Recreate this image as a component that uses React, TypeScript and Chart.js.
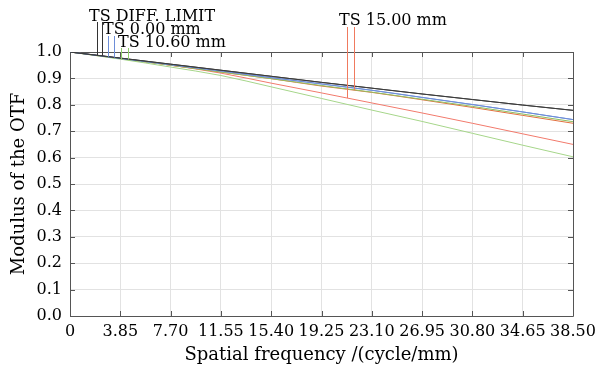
import React, { useEffect, useRef } from 'react';
import { Chart, registerables } from 'chart.js';

Chart.register(...registerables);

// Spatial frequency sample points (cycle/mm)
const freq = [0, 3.85, 7.7, 11.55, 15.4, 19.25, 23.1, 26.95, 30.8, 34.65, 38.5];
const xTickLabels = ['0', '3.85', '7.70', '11.55', '15.40', '19.25', '23.10', '26.95', '30.80', '34.65', '38.50'];
const yTickValues = [0, 0.1, 0.2, 0.3, 0.4, 0.5, 0.6, 0.7, 0.8, 0.9, 1.0];

// MTF series
const diffLimit = [1.0, 0.977, 0.954, 0.931, 0.908, 0.885, 0.863, 0.841, 0.82, 0.799, 0.779];
const ts000 = [1.0, 0.976, 0.952, 0.928, 0.903, 0.879, 0.855, 0.828, 0.801, 0.773, 0.744];
const ts1060a = [1.0, 0.975, 0.95, 0.924, 0.899, 0.873, 0.848, 0.821, 0.794, 0.765, 0.736];
const ts1060b = [1.0, 0.973, 0.943, 0.911, 0.868, 0.824, 0.78, 0.737, 0.692, 0.647, 0.603];
const ts1500a = [1.0, 0.975, 0.95, 0.924, 0.899, 0.871, 0.847, 0.819, 0.79, 0.76, 0.73];
const ts1500b = [1.0, 0.976, 0.95, 0.92, 0.882, 0.845, 0.807, 0.769, 0.73, 0.69, 0.65];

// Legend labels and the frequencies where their leader lines touch the curves
const labelTexts = ['TS DIFF. LIMIT', 'TS 0.00 mm', 'TS 10.60 mm', 'TS 15.00 mm'];
const leaderFreqs = [
  [2.04, 2.43],
  [2.93, 3.39],
  [3.9, 4.42],
  [21.22, 21.76],
];

const FONT = '"DejaVu Serif", serif';

const series = [
  { name: 'diffT', data: diffLimit, color: '#3c3c3c' },
  { name: 'diffS', data: diffLimit, color: '#3c3c3c' },
  { name: '0T', data: ts000, color: '#6d8ed8' },
  { name: '0S', data: ts000, color: '#6d8ed8' },
  { name: '10T', data: ts1060a, color: '#8fbf62' },
  { name: '10S', data: ts1060b, color: '#a6d68a' },
  { name: '15T', data: ts1500a, color: '#e2703e' },
  { name: '15S', data: ts1500b, color: '#f27a6c' },
];

// which series each leader line goes to
const leaderSeries = [
  [0, 1],
  [2, 3],
  [5, 4],
  [7, 6],
];
const leaderColors = ['#333333', '#6d8ed8', '#8fcf6a', '#f07a5e'];
// layout of the label texts (px): left, baseline, leader top
const labelLayout = [
  { x: 89, y: 21, top: 22 },
  { x: 103, y: 34, top: 36 },
  { x: 118, y: 47, top: 48 },
  { x: 339, y: 25, top: 27 },
];

function interp(xs: number[], ys: number[], x: number) {
  for (let i = 0; i < xs.length - 1; i++) {
    if (x >= xs[i] && x <= xs[i + 1]) {
      const t = (x - xs[i]) / (xs[i + 1] - xs[i]);
      return ys[i] + t * (ys[i + 1] - ys[i]);
    }
  }
  return ys[ys.length - 1];
}

const framePlugin = {
  id: 'frame',
  beforeDatasetsDraw(chart: any) {
    const { ctx, chartArea: a, scales } = chart;
    ctx.save();
    ctx.strokeStyle = '#555555';
    ctx.lineWidth = 1;
    ctx.beginPath();
    ctx.rect(Math.round(a.left) + 0.5, Math.round(a.top) + 0.5, Math.round(a.right - a.left), Math.round(a.bottom - a.top));
    ctx.stroke();
    const tl = 5;
    ctx.beginPath();
    freq.forEach((f) => {
      const x = Math.round(scales.x.getPixelForValue(f)) + 0.5;
      ctx.moveTo(x, a.bottom);
      ctx.lineTo(x, a.bottom - tl);
      ctx.moveTo(x, a.top);
      ctx.lineTo(x, a.top + tl);
    });
    yTickValues.forEach((v) => {
      const y = Math.round(scales.y.getPixelForValue(v)) + 0.5;
      ctx.moveTo(a.left, y);
      ctx.lineTo(a.left + tl, y);
      ctx.moveTo(a.right, y);
      ctx.lineTo(a.right - tl, y);
    });
    ctx.stroke();
    ctx.restore();
  },
  afterDatasetsDraw(chart: any) {
    const { ctx, scales } = chart;
    ctx.save();
    ctx.font = '16px ' + FONT;
    ctx.fillStyle = '#000000';
    ctx.textBaseline = 'alphabetic';
    ctx.textAlign = 'left';
    labelTexts.forEach((t, i) => {
      const L = labelLayout[i];
      ctx.fillText(t, L.x, L.y);
      leaderFreqs[i].forEach((f, j) => {
        const s = series[leaderSeries[i][j]];
        const x = Math.round(scales.x.getPixelForValue(f)) + 0.5;
        const y = scales.y.getPixelForValue(interp(freq, s.data, f));
        ctx.strokeStyle = leaderColors[i];
        ctx.lineWidth = 1;
        ctx.beginPath();
        ctx.moveTo(x, L.top);
        ctx.lineTo(x, y);
        ctx.stroke();
      });
    });
    ctx.restore();
  },
};

export default function App() {
  const ref = useRef<HTMLCanvasElement>(null);
  useEffect(() => {
    if (!ref.current) return;
    const chart = new Chart(ref.current, {
      type: 'line',
      data: {
        datasets: series.map((s) => ({
          label: s.name,
          data: freq.map((f, i) => ({ x: f, y: s.data[i] })),
          borderColor: s.color,
          backgroundColor: s.color,
          borderWidth: 1,
          pointRadius: 0,
          cubicInterpolationMode: 'monotone' as const,
          fill: false,
        })),
      },
      options: {
        responsive: false,
        animation: false,
        layout: { padding: { left: 0, top: 52, right: 25, bottom: 0 } },
        plugins: { legend: { display: false }, tooltip: { enabled: false } },
        scales: {
          x: {
            type: 'linear',
            min: 0,
            max: 38.5,
            afterBuildTicks: (scale: any) => {
              scale.ticks = freq.map((v) => ({ value: v }));
            },
            afterFit: (scale: any) => {
              scale.height = 56;
              scale.paddingLeft = 0;
              scale.paddingRight = 0;
            },
            ticks: {
              autoSkip: false,
              maxRotation: 0,
              padding: 6,
              color: '#000000',
              font: { family: FONT, size: 16 },
              callback: (_v: any, i: number) => xTickLabels[i],
            },
            grid: { color: '#e2e2e2', lineWidth: 1, drawTicks: false },
            border: { display: false },
            title: {
              display: true,
              text: 'Spatial frequency /(cycle/mm)',
              color: '#000000',
              font: { family: FONT, size: 18 },
              padding: { top: 0, bottom: 6 },
            },
          },
          y: {
            min: 0,
            max: 1,
            afterBuildTicks: (scale: any) => {
              scale.ticks = yTickValues.map((v) => ({ value: v }));
            },
            afterFit: (scale: any) => {
              scale.width = 70;
              scale.paddingTop = 0;
              scale.paddingBottom = 0;
            },
            ticks: {
              padding: 8,
              color: '#000000',
              font: { family: FONT, size: 16 },
              callback: (_v: any, i: number) => yTickValues[i].toFixed(1),
            },
            grid: { color: '#e2e2e2', lineWidth: 1, drawTicks: false },
            border: { display: false },
            title: {
              display: true,
              text: 'Modulus of the OTF',
              color: '#000000',
              font: { family: FONT, size: 18 },
              padding: { top: 9, bottom: 0 },
            },
          },
        },
      },
      plugins: [framePlugin],
    } as any);
    return () => chart.destroy();
  }, []);
  return (
    <div style={{ position: 'fixed', left: 0, top: 0, width: 598, height: 372, background: '#ffffff' }}>
      <canvas ref={ref} width={598} height={372} style={{ width: 598, height: 372 }} />
    </div>
  );
}
